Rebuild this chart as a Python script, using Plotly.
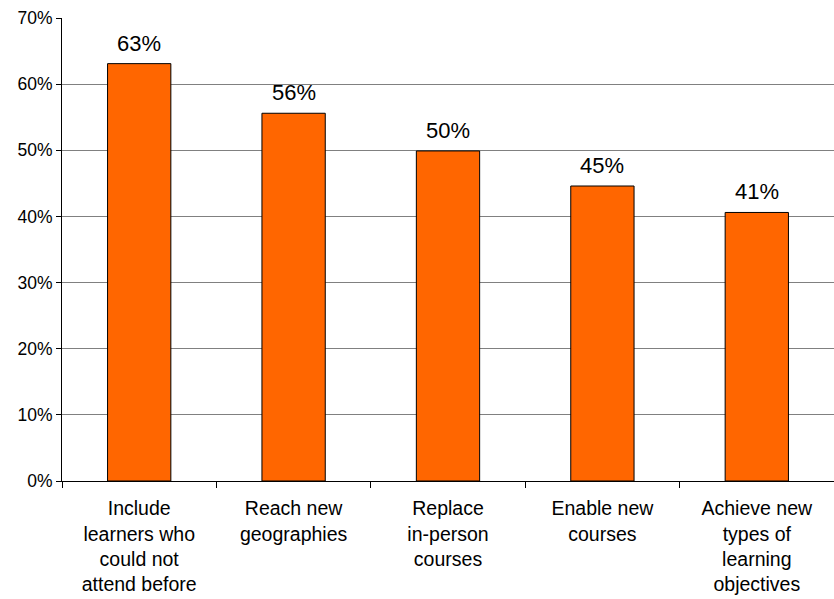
import plotly.graph_objects as go

categories = [
    "Include<br>learners who<br>could not<br>attend before",
    "Reach new<br>geographies",
    "Replace<br>in-person<br>courses",
    "Enable new<br>courses",
    "Achieve new<br>types of<br>learning<br>objectives",
]
values = [63.1, 55.6, 49.9, 44.6, 40.6]
labels = [f"{round(v)}%" for v in values]
y_ticks = [0, 10, 20, 30, 40, 50, 60, 70]
y_tick_text = [f"{t}%" for t in y_ticks]

fig = go.Figure(
    go.Bar(
        x=categories,
        y=values,
        marker=dict(color="#FF6600", line=dict(color="black", width=1)),
        cliponaxis=False,
    )
)

for c, v, t in zip(categories, values, labels):
    fig.add_annotation(
        x=c, y=v, text=t, showarrow=False, yanchor="bottom", yshift=6,
        font=dict(size=22, color="black", family="Liberation Sans, Arial"),
    )

fig.update_layout(
    width=834,
    height=599,
    margin=dict(l=62, r=0, t=18, b=118),
    plot_bgcolor="white",
    paper_bgcolor="white",
    bargap=0.59,
    showlegend=False,
    font=dict(family="Liberation Sans, Arial", color="black"),
)
fig.update_xaxes(
    showline=True,
    linecolor="black",
    linewidth=1,
    ticks="outside",
    tickson="boundaries",
    ticklen=6,
    tickcolor="black",
    tickfont=dict(size=19.5),
    ticklabelstandoff=10,
    showgrid=False,
)
fig.update_yaxes(
    range=[0, 70],
    tickvals=y_ticks,
    ticktext=y_tick_text,
    showline=True,
    linecolor="black",
    linewidth=1,
    ticks="outside",
    ticklen=5,
    tickcolor="black",
    tickfont=dict(size=17.5),
    showgrid=True,
    gridcolor="#808080",
    gridwidth=1,
    zeroline=False,
)

fig.write_html("out.html")
